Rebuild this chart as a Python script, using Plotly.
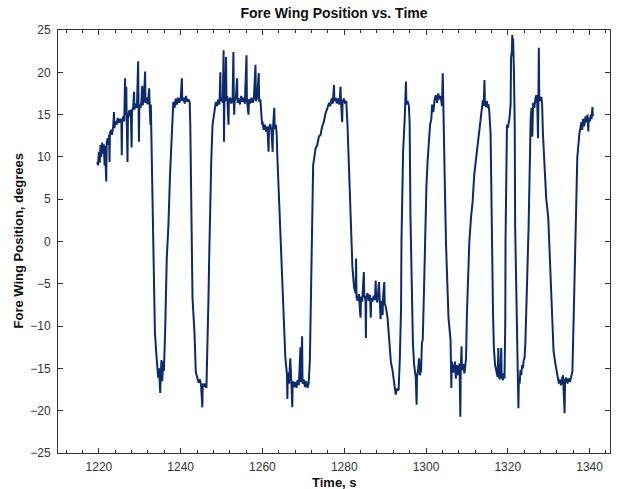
import plotly.graph_objects as go

# Time (s) and fore wing position (degrees)
time_s = [
    1219.6, 1219.8, 1220.0, 1220.2, 1220.4, 1220.6, 1220.8, 1221.0, 1221.2, 1221.4, 1221.5, 1221.8, 1221.9,
    1222.1, 1222.3, 1222.5, 1222.6, 1222.7, 1223.0, 1223.2, 1223.5, 1223.7, 1223.8, 1224.0, 1224.3, 1224.6,
    1224.9, 1225.2, 1225.5, 1225.6, 1225.7, 1226.0, 1226.2, 1226.4, 1226.5, 1226.7, 1226.8, 1227.0, 1227.1,
    1227.4, 1227.6, 1227.8, 1228.0, 1228.1, 1228.4, 1228.6, 1228.7, 1229.0, 1229.3, 1229.6, 1229.7, 1229.8,
    1229.9, 1230.2, 1230.4, 1230.6, 1230.7, 1231.0, 1231.3, 1231.4, 1231.7, 1231.9, 1232.1, 1232.3, 1232.4,
    1232.6, 1232.7,
    1232.9, 1233.3, 1233.6, 1233.7, 1234.0, 1234.5, 1234.7, 1235.0, 1235.1, 1235.3, 1235.5, 1235.7, 1235.9,
    1236.1, 1236.2, 1236.6, 1237.0, 1237.4, 1237.8, 1238.2, 1238.5, 1238.8, 1239.1, 1239.4, 1239.7, 1240.0,
    1240.3, 1240.4, 1240.7, 1241.0, 1241.3, 1241.6, 1241.9, 1242.2,
    1242.35, 1242.5, 1242.7, 1242.9, 1243.4, 1243.7, 1244.0, 1244.4, 1244.7, 1245.0, 1245.3, 1245.4, 1245.7,
    1246.0, 1246.3, 1246.5, 1246.8, 1247.0, 1247.2, 1247.5, 1247.8, 1248.3,
    1248.6, 1248.9, 1249.2, 1249.5, 1249.7, 1249.8, 1250.1, 1250.3, 1250.5, 1250.55, 1250.6, 1250.7, 1250.9,
    1251.1, 1251.2, 1251.4, 1251.7, 1251.8, 1252.1, 1252.4, 1252.7, 1252.9, 1253.0, 1253.1, 1253.2, 1253.5,
    1253.8, 1253.9, 1254.2, 1254.5, 1254.8, 1255.1, 1255.4, 1255.7, 1256.1, 1256.2, 1256.6, 1256.7, 1257.0,
    1257.3, 1257.6, 1257.9, 1258.3, 1258.4, 1258.7, 1259.1, 1259.2, 1259.5, 1259.9, 1260.0, 1260.3, 1260.6,
    1260.9, 1261.2, 1261.5, 1261.6, 1261.9, 1262.2, 1262.5, 1262.6, 1262.9, 1263.0, 1263.3, 1263.5,
    1263.6, 1264.0, 1264.4, 1264.8, 1265.2, 1265.6, 1266.0, 1266.1, 1266.2, 1266.5, 1266.8, 1266.9, 1267.1,
    1267.3, 1267.4, 1267.7, 1268.0, 1268.3, 1268.6, 1268.9, 1269.3, 1269.4, 1269.7, 1269.8, 1270.1, 1270.4,
    1270.7, 1271.0, 1271.3, 1271.6, 1271.8, 1272.0, 1272.2, 1272.4, 1272.7, 1273.0, 1273.4, 1273.8, 1274.2,
    1274.6, 1275.0, 1275.4, 1275.9, 1276.3, 1276.6, 1276.9, 1277.2, 1277.5, 1277.6, 1277.9, 1278.2, 1278.5,
    1278.8, 1279.1, 1279.2, 1279.5, 1279.6, 1279.9, 1280.2, 1280.5,
    1280.8, 1281.2, 1281.6, 1282.0, 1282.4, 1282.8, 1282.9, 1283.0, 1283.3, 1283.6, 1283.9, 1284.0, 1284.1,
    1284.4, 1284.8, 1284.9, 1285.2, 1285.3, 1285.4, 1285.7, 1286.0, 1286.3, 1286.5, 1286.6, 1286.9, 1287.2,
    1287.5, 1287.7, 1287.8, 1288.1, 1288.5, 1288.6, 1288.9, 1289.0, 1289.4, 1289.5, 1289.8, 1289.9,
    1290.2, 1290.6, 1291.0, 1291.4, 1291.8, 1292.2, 1292.6, 1292.9, 1293.3,
    1293.6, 1293.9, 1294.0, 1294.2, 1294.4, 1294.8, 1295.0, 1295.1, 1295.2, 1295.5, 1295.8, 1296.0,
    1296.2, 1296.5, 1296.8, 1297.1, 1297.5, 1297.7, 1297.8, 1298.1, 1298.3, 1298.5, 1298.8, 1299.0, 1299.2,
    1299.5, 1299.8, 1300.1, 1300.4, 1300.7, 1301.0, 1301.3, 1301.5, 1301.8, 1302.1, 1302.4, 1302.7, 1303.0,
    1303.3, 1303.6, 1303.9, 1304.1, 1304.2, 1304.3,
    1304.5, 1304.7, 1304.9, 1305.3, 1305.5, 1306.0, 1306.1, 1306.2, 1306.3, 1306.5, 1306.8, 1307.1, 1307.3,
    1307.6, 1307.9, 1308.2, 1308.4, 1308.5, 1308.7, 1308.8, 1309.1, 1309.4, 1309.8, 1310.0, 1310.4, 1310.6,
    1311.0, 1311.4, 1311.8, 1312.3, 1312.7, 1313.1, 1313.5, 1313.9, 1314.1, 1314.3, 1314.4, 1314.7, 1314.9,
    1315.1, 1315.3, 1315.5,
    1315.8, 1315.9, 1316.1, 1316.4, 1316.6, 1316.9, 1317.2, 1317.5, 1317.7, 1317.8, 1318.0, 1318.2, 1318.4,
    1318.5, 1318.8, 1319.0, 1319.2,
    1319.4, 1319.45, 1319.6, 1319.8, 1320.0, 1320.2, 1320.4, 1320.7, 1320.8, 1321.0, 1321.1, 1321.2, 1321.3,
    1321.5, 1321.7, 1321.8, 1322.1, 1322.3, 1322.5, 1322.6, 1322.7, 1322.9, 1323.1, 1323.3, 1323.5, 1323.7,
    1323.9, 1324.1, 1324.3, 1324.5, 1324.8, 1325.1, 1325.3, 1325.6, 1325.8, 1326.0, 1326.2, 1326.5, 1326.8,
    1327.0, 1327.2, 1327.4, 1327.5, 1327.6, 1327.7, 1327.9, 1328.2, 1328.4, 1328.6,
    1328.8, 1329.0, 1329.4, 1329.9, 1330.2, 1330.7, 1330.9, 1331.2, 1331.7, 1332.0, 1332.3, 1332.5, 1332.7,
    1333.0, 1333.3, 1333.5, 1333.9, 1334.0, 1334.3, 1334.6, 1334.9, 1335.2, 1335.5, 1335.8,
    1336.1, 1336.4, 1336.6, 1336.8, 1337.0, 1337.5, 1338.0, 1338.2, 1338.4, 1338.7, 1339.0, 1339.3, 1339.5,
    1339.7, 1339.8, 1340.1, 1340.3, 1340.5, 1340.7, 1340.8,
]

position_deg = [
    9.4, 9.0, 10.6, 9.3, 11.4, 10.0, 11.7, 10.4, 11.5, 9.0, 11.3, 7.1, 11.6,
    12.2, 11.4, 12.6, 9.4, 12.8, 13.2, 12.6, 13.6, 15.3, 13.4, 14.2, 13.8, 14.6,
    14.0, 14.5, 14.0, 10.2, 14.3, 14.8, 14.2, 19.3, 15.0, 18.3, 14.6, 9.4, 14.5,
    15.5, 14.8, 15.6, 11.1, 15.3, 16.0, 17.7, 15.6, 16.3, 15.8, 21.3, 16.0, 11.8,
    16.2, 15.8, 16.6, 18.4, 16.1, 16.7, 20.1, 16.4, 17.0, 16.2, 16.9, 18.1, 16.5,
    13.8, 16.2,
    10.2, 0.4, -6.0, -10.7, -13.0, -16.1, -15.0, -17.9, -16.2, -14.0, -16.5, -14.2, -15.3,
    -13.2, -10.7, -2.0, 1.9, 7.9, 12.2, 16.5, 15.8, 16.9, 16.2, 17.0, 16.4, 16.9,
    19.3, 16.6, 17.0, 16.3, 17.2, 16.5, 16.8, 16.5,
    13.8, 7.9, 0.4, -6.7, -11.0, -15.4, -16.0, -16.7, -16.3, -17.0, -19.6, -16.8, -17.2,
    -16.8, -17.3, -13.8, -6.7, -1.3, 4.7, 9.9, 13.8, 15.8,
    16.5, 16.0, 16.8, 16.2, 20.0, 16.6, 17.0, 16.4, 22.6, 16.8, 11.8, 16.5, 17.1,
    21.8, 16.6, 17.2, 13.8, 16.7, 17.0, 16.3, 16.9, 22.4, 16.5, 15.0, 16.6, 17.1,
    19.3, 16.4, 16.9, 16.2, 17.2, 16.5, 17.0, 16.3, 22.0, 16.7, 15.0, 16.8, 16.3,
    17.0, 16.4, 16.9, 20.9, 16.6, 17.0, 19.9, 16.5, 16.8, 13.8, 14.2, 13.2, 13.8,
    13.0, 13.6, 10.6, 13.4, 13.9, 13.1, 10.6, 13.6, 15.8, 13.3, 13.8, 12.5,
    10.6, 5.9, 1.9, -2.5, -9.0, -13.7, -15.8, -18.6, -15.5, -16.8, -13.8, -16.4, -17.0,
    -19.6, -16.5, -17.2, -16.6, -17.3, -16.4, -17.0, -12.5, -16.6, -11.2, -16.8, -16.3, -17.2,
    -16.5, -17.3, -16.8, -14.0, -9.0, -2.2, 3.5, 9.0, 10.0, 11.0, 11.4, 12.4, 12.6,
    13.6, 14.1, 15.1, 15.8, 16.4, 16.0, 16.9, 16.3, 18.5, 16.6, 17.0, 16.3, 16.9,
    16.2, 18.3, 16.7, 14.1, 16.5, 16.9, 16.3, 16.6,
    13.8, 8.5, 1.8, -3.0, -5.4, -6.1, -2.0, -6.6, -7.0, -6.2, -8.5, -9.0, -6.5,
    -7.1, -3.6, -6.4, -6.9, -11.4, -6.6, -6.1, -7.0, -6.3, -9.0, -6.7, -7.1, -6.4,
    -6.9, -4.6, -6.6, -7.2, -4.8, -6.8, -9.2, -7.0, -8.7, -6.5, -4.8, -7.3,
    -7.8, -9.0, -11.6, -14.2, -15.2, -16.6, -18.1, -17.4, -17.6,
    -13.8, -7.9, 0.0, 6.7, 10.6, 14.6, 16.5, 18.9, 16.2, 16.6, 16.1, 14.0,
    3.0, -4.0, -12.0, -14.6, -16.1, -19.3, -16.0, -15.0, -13.8, -15.8, -15.2, -12.0, -11.6,
    -6.0, 1.9, 6.5, 9.6, 12.2, 13.8, 14.5, 16.2, 15.3, 16.8, 17.3, 16.4, 17.5,
    16.8, 17.2, 16.0, 19.9, 16.5, 17.0,
    10.6, 4.3, -0.4, -5.1, -9.0, -11.6, -13.8, -17.3, -14.2, -14.6, -15.5, -14.2, -16.2,
    -14.6, -15.8, -14.4, -20.7, -15.0, -12.4, -15.2, -14.5, -15.6, -13.8, -8.7, -2.8, 0.0,
    2.8, 4.7, 7.9, 9.9, 12.2, 13.8, 15.3, 16.7, 16.0, 19.1, 16.4, 15.9, 16.6,
    15.8, 16.2, 15.2,
    12.7, 5.9, 1.9, -8.7, -12.6, -14.6, -15.5, -16.0, -12.6, -15.8, -16.3, -15.4, -12.6,
    -16.0, -16.4, -15.6, -16.2,
    -9.0, 0.0, 9.9, 13.8, 13.4, 14.0, 14.5, 16.2, 21.7, 22.5, 24.4, 22.0, 24.0,
    20.2, 13.8, 1.9, -6.4, -13.8, -17.8, -19.7, -16.5, -16.8, -15.2, -15.8, -14.6, -15.0,
    -14.0, -13.8, -12.0, -9.3, -3.4, 1.9, 7.9, 14.5, 15.8, 12.4, 16.4, 15.8, 17.0,
    17.3, 16.5, 12.2, 17.0, 22.9, 17.2, 16.6, 17.1, 16.2, 12.7,
    11.0, 9.0, 5.1, 2.8, -1.1, -5.8, -9.7, -13.0, -14.6, -15.6, -16.1, -16.8, -16.3,
    -17.0, -16.2, -15.8, -20.3, -16.4, -16.1, -16.8, -16.2, -16.6, -16.0, -15.4,
    -9.3, -3.4, 1.5, 6.7, 9.9, 12.7, 14.1, 13.2, 14.5, 13.6, 14.8, 14.1, 15.0,
    13.0, 14.6, 14.2, 15.0, 14.5, 15.9, 14.8,
]

x_ticks = [1220, 1240, 1260, 1280, 1300, 1320, 1340]
y_ticks = [-25, -20, -15, -10, -5, 0, 5, 10, 15, 20, 25]

title_text = "Fore Wing Position vs. Time"
x_title = "Time, s"
y_title = "Fore Wing Position, degrees"

font_family = "Liberation Sans, Arial, sans-serif"
axis_color = "#333333"

fig = go.Figure()
fig.add_trace(go.Scatter(
    x=time_s, y=position_deg, mode="lines",
    line=dict(color="#0c2a6c", width=2),
    showlegend=False, hoverinfo="skip",
))

fig.update_layout(
    width=618, height=489,
    margin=dict(l=58, r=8, t=30, b=36, autoexpand=False),
    paper_bgcolor="white", plot_bgcolor="white",
    font=dict(family=font_family, size=12, color="#333333"),
    title=dict(text="<b>" + title_text + "</b>", x=0.5, xref="paper",
               y=1 - 13 / 489, yref="container", yanchor="middle", xanchor="center",
               font=dict(size=14, color="#111111", family=font_family)),
    xaxis=dict(
        range=[1210, 1345], tickmode="array", tickvals=x_ticks,
        ticks="inside", ticklen=5, tickwidth=1, tickcolor=axis_color,
        showline=True, linecolor=axis_color, linewidth=1, mirror="ticks",
        showgrid=False, zeroline=False,
        minor=dict(tick0=1220, dtick=4, ticks="inside", ticklen=3, tickcolor=axis_color, showgrid=False),
        tickfont=dict(size=12, color="#333333"),
        ticklabelstandoff=3,
    ),
    yaxis=dict(
        range=[-25, 25], tickmode="array", tickvals=y_ticks,
        ticks="inside", ticklen=5, tickwidth=1, tickcolor=axis_color,
        showline=True, linecolor=axis_color, linewidth=1, mirror="ticks",
        showgrid=False, zeroline=False,
        tickfont=dict(size=12, color="#333333"),
        ticklabelstandoff=4,
    ),
    annotations=[
        dict(text="<b>" + x_title + "</b>", xref="paper", yref="paper", x=0.5, y=0,
             xanchor="center", yanchor="middle", yshift=-29, showarrow=False,
             font=dict(size=13, color="#111111", family=font_family)),
        dict(text="<b>" + y_title + "</b>", xref="paper", yref="paper", x=0, y=0.5,
             xanchor="center", yanchor="middle", xshift=-40, textangle=-90, showarrow=False,
             font=dict(size=13, color="#111111", family=font_family)),
    ],
)

fig.write_html("out.html")
